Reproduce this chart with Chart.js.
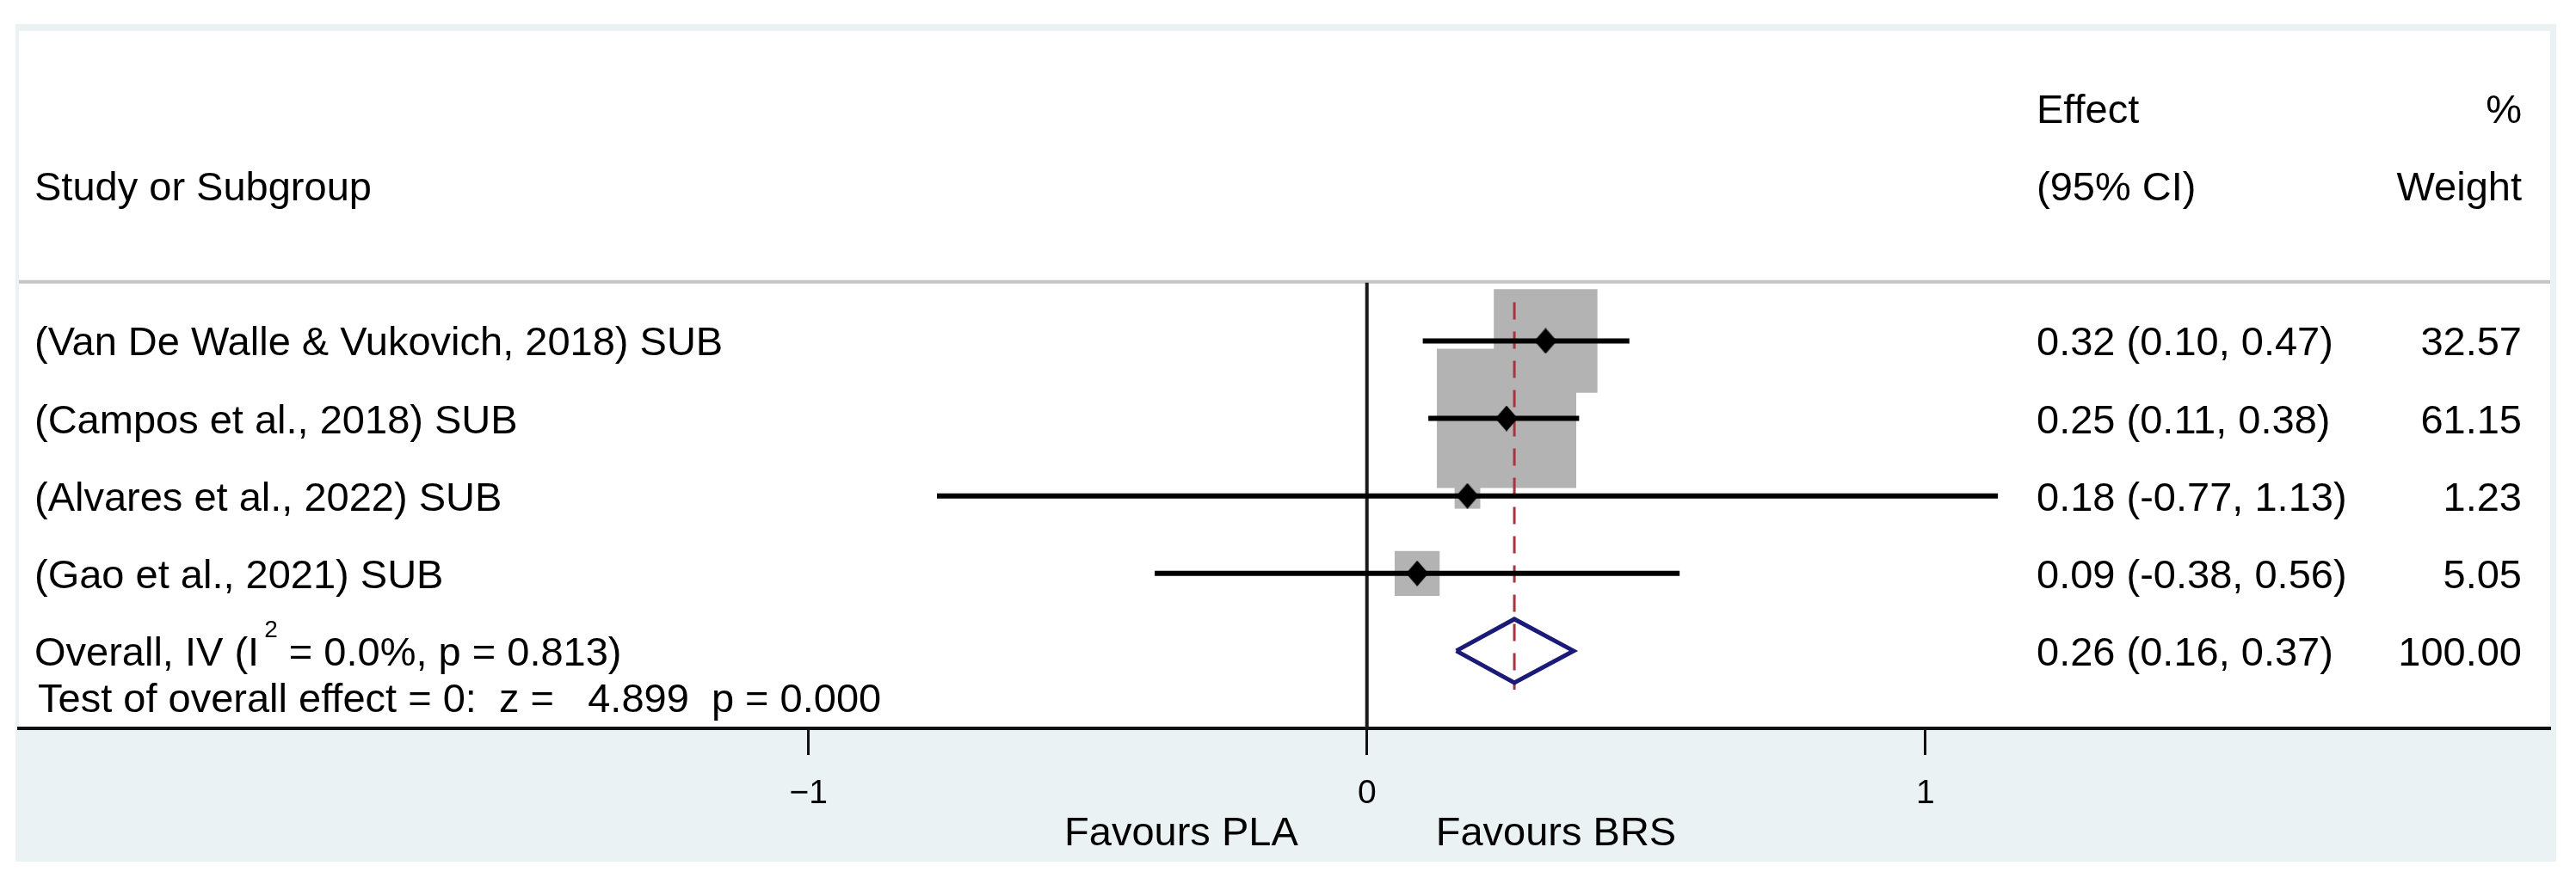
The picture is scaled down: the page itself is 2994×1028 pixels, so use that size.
<!DOCTYPE html>
<html>
<head>
<meta charset="utf-8">
<title>Forest plot</title>
<script src="https://cdn.jsdelivr.net/npm/chart.js@4.4.1/dist/chart.umd.min.js"></script>
<style>
  html, body { margin: 0; padding: 0; background: #fff; }
  #wrapper { width: 2994px; height: 1028px; position: relative; }
</style>
</head>
<body>
<div id="wrapper"><canvas id="forest"></canvas></div>
<script>
const studies = [
  "(Van De Walle & Vukovich, 2018) SUB",
  "(Campos et al., 2018) SUB",
  "(Alvares et al., 2022) SUB",
  "(Gao et al., 2021) SUB"
];
const effects = [0.32, 0.25, 0.18, 0.09];
const lowerCI = [0.10, 0.11, -0.77, -0.38];
const upperCI = [0.47, 0.38, 1.13, 0.56];
const weights = [32.57, 61.15, 1.23, 5.05];

const overallEffect = 0.264;
const overallLower = 0.16;
const overallUpper = 0.37;
const overallWeight = 100;
const overallLabel = ["Overall, IV (I", "2", " = 0.0%, p = 0.813)"];
const testLabel = "Test of overall effect = 0:  z =   4.899  p = 0.000";

const headerLeft = "Study or Subgroup";
const headerEffect = ["Effect", "(95% CI)"];
const headerWeight = ["%", "Weight"];

const tickValues = [-1, 0, 1];
const tickLabels = ["\u22121", "0", "1"];
const favoursLabels = ["Favours PLA", "Favours BRS"];

const FONT = "'Liberation Sans', Arial, Helvetica, sans-serif";
const TEXT_SIZE = 47;
const overallRow = studies.length + 1;

function ciText(e, l, u) {
  return e.toFixed(2) + " (" + l.toFixed(2) + ", " + u.toFixed(2) + ")";
}

function diamondMarker(w, h) {
  const c = document.createElement("canvas");
  c.width = w;
  c.height = h;
  const g = c.getContext("2d");
  g.fillStyle = "#000";
  g.beginPath();
  g.moveTo(w / 2, 0);
  g.lineTo(w, h / 2);
  g.lineTo(w / 2, h);
  g.lineTo(0, h / 2);
  g.closePath();
  g.fill();
  return c;
}

// background panels + header rule
const panelPlugin = {
  id: "panel",
  beforeDraw(chart) {
    const { ctx, chartArea: a, scales } = chart;
    ctx.save();
    ctx.fillStyle = "#eaf2f3";
    ctx.fillRect(a.left - 4, a.top - 8, a.right - a.left + 11, a.bottom - a.top + 163);
    ctx.fillStyle = "#ffffff";
    ctx.fillRect(a.left, a.top, a.right - a.left, a.bottom - a.top);
    const ySep = scales.y.getPixelForValue(0.25) - 1;
    ctx.strokeStyle = "#c4c4c4";
    ctx.lineWidth = 4;
    ctx.beginPath();
    ctx.moveTo(a.left, ySep);
    ctx.lineTo(a.right, ySep);
    ctx.stroke();
    ctx.restore();
  }
};

// all the table text
const textPlugin = {
  id: "tableText",
  afterDraw(chart) {
    const { ctx, chartArea: a, scales } = chart;
    const y = (row) => scales.y.getPixelForValue(row) + 17;
    const xLeft = a.left + 18;
    const xCI = a.right - 597;
    const xW = a.right - 33;
    const mainFont = TEXT_SIZE + "px " + FONT;
    ctx.save();
    ctx.fillStyle = "#000";
    ctx.textBaseline = "alphabetic";
    ctx.font = mainFont;

    ctx.textAlign = "left";
    ctx.fillText(headerLeft, xLeft, y(-1));
    ctx.fillText(headerEffect[0], xCI, y(-2));
    ctx.fillText(headerEffect[1], xCI, y(-1));
    ctx.textAlign = "right";
    ctx.fillText(headerWeight[0], xW, y(-2));
    ctx.fillText(headerWeight[1], xW, y(-1));

    for (let i = 0; i < studies.length; i++) {
      ctx.textAlign = "left";
      ctx.fillText(studies[i], xLeft, y(i + 1));
      ctx.fillText(ciText(effects[i], lowerCI[i], upperCI[i]), xCI, y(i + 1));
      ctx.textAlign = "right";
      ctx.fillText(weights[i].toFixed(2), xW, y(i + 1));
    }

    // overall row with superscript
    ctx.textAlign = "left";
    let x = xLeft;
    ctx.fillText(overallLabel[0], x, y(overallRow));
    x += ctx.measureText(overallLabel[0]).width + 6;
    ctx.font = "28px " + FONT;
    ctx.fillText(overallLabel[1], x, y(overallRow) - 33);
    x += ctx.measureText(overallLabel[1]).width;
    ctx.font = mainFont;
    ctx.fillText(overallLabel[2], x, y(overallRow));
    ctx.fillText(ciText(overallEffect, overallLower, overallUpper), xCI, y(overallRow));
    ctx.textAlign = "right";
    ctx.fillText(overallWeight.toFixed(2), xW, y(overallRow));

    ctx.textAlign = "left";
    ctx.fillText(testLabel, xLeft + 4, y(overallRow + 0.6));

    // favours labels either side of the null line
    const x0 = scales.x.getPixelForValue(0);
    const yFav = a.bottom + 136;
    ctx.textAlign = "right";
    ctx.fillText(favoursLabels[0], x0 - 80, yFav);
    ctx.textAlign = "left";
    ctx.fillText(favoursLabels[1], x0 + 80, yFav);
    ctx.restore();
  }
};

const studyRows = studies.map((s, i) => i + 1);

const boxData = studyRows.map((r, i) => ({ x: effects[i], y: r }));
const markerData = studyRows.map((r, i) => ({ x: effects[i], y: r }));

const ciDatasets = studyRows.map((r, i) => ({
  data: [{ x: lowerCI[i], y: r }, { x: upperCI[i], y: r }],
  showLine: true,
  borderColor: "#000",
  borderWidth: 6,
  borderCapStyle: "butt",
  pointRadius: 0,
  order: 2
}));

const diamondHalf = 0.41;
const overallDiamond = [
  { x: overallLower, y: overallRow },
  { x: overallEffect, y: overallRow - diamondHalf },
  { x: overallUpper, y: overallRow },
  { x: overallEffect, y: overallRow + diamondHalf },
  { x: overallLower, y: overallRow }
];

new Chart(document.getElementById("forest"), {
  type: "scatter",
  data: {
    datasets: [
      {
        label: "overall",
        data: overallDiamond,
        showLine: true,
        borderColor: "#1a1a78",
        borderWidth: 5,
        borderJoinStyle: "miter",
        pointRadius: 0,
        fill: false,
        order: 0
      },
      {
        label: "point estimates",
        data: markerData,
        pointStyle: diamondMarker(26, 30),
        pointRadius: 13,
        order: 1
      },
      ...ciDatasets,
      {
        label: "overall effect",
        data: [{ x: overallEffect, y: 0.5 }, { x: overallEffect, y: overallRow + 0.5 }],
        showLine: true,
        borderColor: "#a8343f",
        borderWidth: 3,
        borderDash: [20, 14],
        pointRadius: 0,
        order: 3
      },
      {
        label: "null",
        data: [{ x: 0, y: 0.25 }, { x: 0, y: overallRow + 1 }],
        showLine: true,
        borderColor: "#1a1a1a",
        borderWidth: 4,
        pointRadius: 0,
        order: 4
      },
      {
        label: "weights",
        data: boxData,
        pointStyle: "rect",
        backgroundColor: "#b3b3b3",
        pointBorderWidth: 0,
        borderWidth: 0,
        pointRadius: (c) => (8 + 19.7 * Math.sqrt(weights[c.dataIndex])) / Math.SQRT2,
        order: 5
      }
    ]
  },
  options: {
    responsive: true,
    maintainAspectRatio: false,
    animation: false,
    devicePixelRatio: 1,
    layout: { autoPadding: false, padding: { left: 22, right: 30, top: 36, bottom: 81 } },
    plugins: {
      legend: { display: false },
      tooltip: { enabled: false }
    },
    scales: {
      x: {
        type: "linear",
        min: -2.414,
        max: 2.119,
        afterBuildTicks: (axis) => {
          axis.ticks = tickValues.map((v) => ({ value: v }));
        },
        afterFit: (axis) => {
          axis.height = 100;
        },
        border: { display: true, color: "#111", width: 4 },
        grid: {
          drawOnChartArea: false,
          drawTicks: true,
          tickLength: 31,
          tickWidth: 3,
          tickColor: "#111"
        },
        ticks: {
          color: "#000",
          font: { family: FONT, size: 39 },
          padding: 22,
          maxRotation: 0,
          autoSkip: false,
          callback: (v, i) => tickLabels[i]
        }
      },
      y: {
        type: "linear",
        display: false,
        min: -3,
        max: overallRow + 1,
        reverse: true
      }
    }
  },
  plugins: [panelPlugin, textPlugin]
});
</script>
</body>
</html>
